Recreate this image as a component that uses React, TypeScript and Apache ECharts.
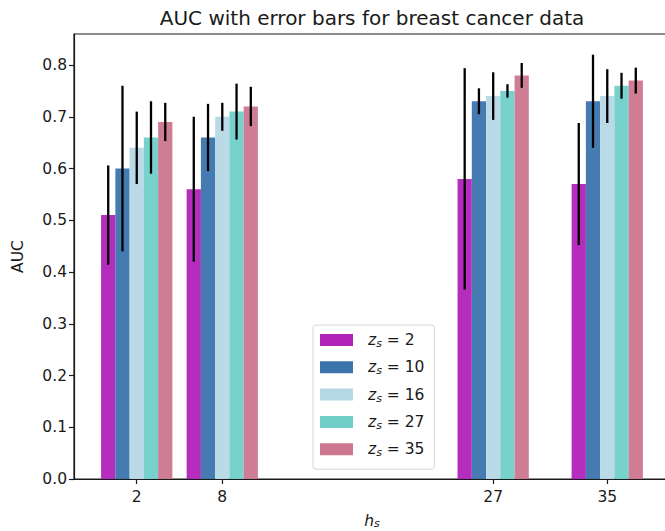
import React, { useEffect, useRef } from "react";
import * as echarts from "echarts";

const hsValues = [2, 8, 27, 35];
const zsLabels = [2, 10, 16, 27, 35];
const aucZ2 = [0.51, 0.56, 0.58, 0.57];
const aucZ10 = [0.6, 0.66, 0.73, 0.73];
const aucZ16 = [0.64, 0.7, 0.74, 0.74];
const aucZ27 = [0.66, 0.71, 0.75, 0.76];
const aucZ35 = [0.69, 0.72, 0.78, 0.77];
const errZ2 = [0.096, 0.14, 0.214, 0.118];
const errZ10 = [0.16, 0.065, 0.025, 0.09];
const errZ16 = [0.07, 0.027, 0.046, 0.052];
const errZ27 = [0.07, 0.054, 0.013, 0.025];
const errZ35 = [0.037, 0.038, 0.024, 0.025];
const yTicks = [0, 0.1, 0.2, 0.3, 0.4, 0.5, 0.6, 0.7, 0.8];

const aucSeries = [aucZ2, aucZ10, aucZ16, aucZ27, aucZ35];
const errSeries = [errZ2, errZ10, errZ16, errZ27, errZ35];
const colors = ["#b022b8", "#3b74ad", "#b5d8e5", "#70cfc9", "#cc768f"];

const FONT = "DejaVu Sans";
const BASE = 15.5;

export default function App() {
  const ref = useRef<HTMLDivElement>(null);
  useEffect(() => {
    const chart = echarts.init(ref.current!, null, { renderer: "svg" });
    const nGroups = zsLabels.length;
    const series: any[] = zsLabels.map((z, si) => {
      const offset = si - (nGroups - 1) / 2;
      return {
        type: "custom",
        name: `z${si}`,
        itemStyle: { color: colors[si] },
        clip: false,
        data: hsValues.map((hs, i) => [
          hs + offset,
          aucSeries[si][i],
          aucSeries[si][i] - errSeries[si][i],
          aucSeries[si][i] + errSeries[si][i],
        ]),
        renderItem: (params: any, api: any) => {
          const x = api.value(0);
          const v = api.value(1);
          const lo = api.value(2);
          const hi = api.value(3);
          const p0 = api.coord([x - 0.5, v]);
          const p1 = api.coord([x + 0.5, 0]);
          const e0 = api.coord([x, lo]);
          const e1 = api.coord([x, hi]);
          return {
            type: "group",
            children: [
              {
                type: "rect",
                shape: { x: p0[0], y: p0[1], width: p1[0] - p0[0], height: p1[1] - p0[1] },
                style: { fill: colors[si], opacity: 0.95 },
                z2: 1,
              },
              {
                type: "line",
                shape: { x1: e0[0], y1: e0[1], x2: e1[0], y2: e1[1] },
                style: { stroke: "#000", lineWidth: 2.3 },
                z2: 10,
              },
            ],
          };
        },
      };
    });

    const legendNames: Record<string, string> = {};
    zsLabels.forEach((z, si) => {
      legendNames[`z${si}`] = `{z|z}{s|s}{t| = ${z}}`;
    });

    chart.setOption({
      animation: false,
      graphic: [
        {
          type: "text",
          x: 372,
          y: 17.5,
          style: {
            text: "AUC with error bars for breast cancer data",
            align: "center",
            verticalAlign: "middle",
            fontFamily: FONT,
            fontSize: 20,
            fill: "#1a1a1a",
          },
        },
      ],
      grid: {
        left: 74,
        top: 34,
        bottom: 52,
        width: 596,
        outerBoundsMode: "none",
        containLabel: false,
        show: true,
        borderColor: "#1a1a1a",
        borderWidth: 1.2,
        backgroundColor: "transparent",
      },
      legend: {
        orient: "vertical",
        left: 313,
        top: 325,
        icon: "rect",
        itemWidth: 33,
        itemHeight: 12,
        itemGap: 10.3,
        padding: [7, 10, 11, 7],
        backgroundColor: "rgba(255,255,255,0.85)",
        borderColor: "#d6d6d6",
        borderWidth: 1,
        borderRadius: 3,
        formatter: (name: string) => legendNames[name],
        textStyle: {
          padding: [0, 0, 0, 10],
          rich: {
            z: { fontFamily: FONT, fontStyle: "italic", fontSize: BASE, color: "#1a1a1a", lineHeight: 18 },
            s: { fontFamily: FONT, fontStyle: "italic", fontSize: 11, color: "#1a1a1a", padding: [7, 0, 0, 0] },
            t: { fontFamily: FONT, fontSize: BASE, color: "#1a1a1a", lineHeight: 18 },
          },
        },
      },
      xAxis: {
        type: "value",
        min: -2.4,
        max: 39.4,
        splitLine: { show: false },
        axisLine: { show: true, onZero: false, lineStyle: { color: "#1a1a1a", width: 1.2 } },
        axisTick: { show: true, customValues: hsValues, length: 5, lineStyle: { color: "#1a1a1a", width: 1.2 } },
        axisLabel: { customValues: hsValues, fontFamily: FONT, fontSize: BASE, color: "#1a1a1a", margin: 10 },
        name: "{h|h}{s|s}",
        nameLocation: "middle",
        nameGap: 33,
        nameTextStyle: {
          rich: {
            h: { fontFamily: FONT, fontStyle: "italic", fontSize: BASE, color: "#1a1a1a", lineHeight: 17 },
            s: { fontFamily: FONT, fontStyle: "italic", fontSize: 11, color: "#1a1a1a", padding: [6, 0, 0, 0] },
          },
        },
      },
      yAxis: {
        type: "value",
        min: 0,
        max: 0.86,
        splitLine: { show: false },
        axisLine: { show: true, onZero: false, lineStyle: { color: "#1a1a1a", width: 1.2 } },
        axisTick: { show: true, customValues: yTicks, length: 5, lineStyle: { color: "#1a1a1a", width: 1.2 } },
        axisLabel: {
          customValues: yTicks,
          fontFamily: FONT,
          fontSize: BASE,
          color: "#1a1a1a",
          margin: 7,
          formatter: (v: number) => v.toFixed(1),
        },
        name: "AUC",
        nameLocation: "middle",
        nameGap: 48,
        nameRotate: 90,
        nameTextStyle: { fontFamily: FONT, fontSize: BASE, color: "#1a1a1a" },
      },
      series,
    });
    return () => chart.dispose();
  }, []);
  return <div ref={ref} style={{ position: "absolute", left: 0, top: 0, width: 665, height: 531 }} />;
}
